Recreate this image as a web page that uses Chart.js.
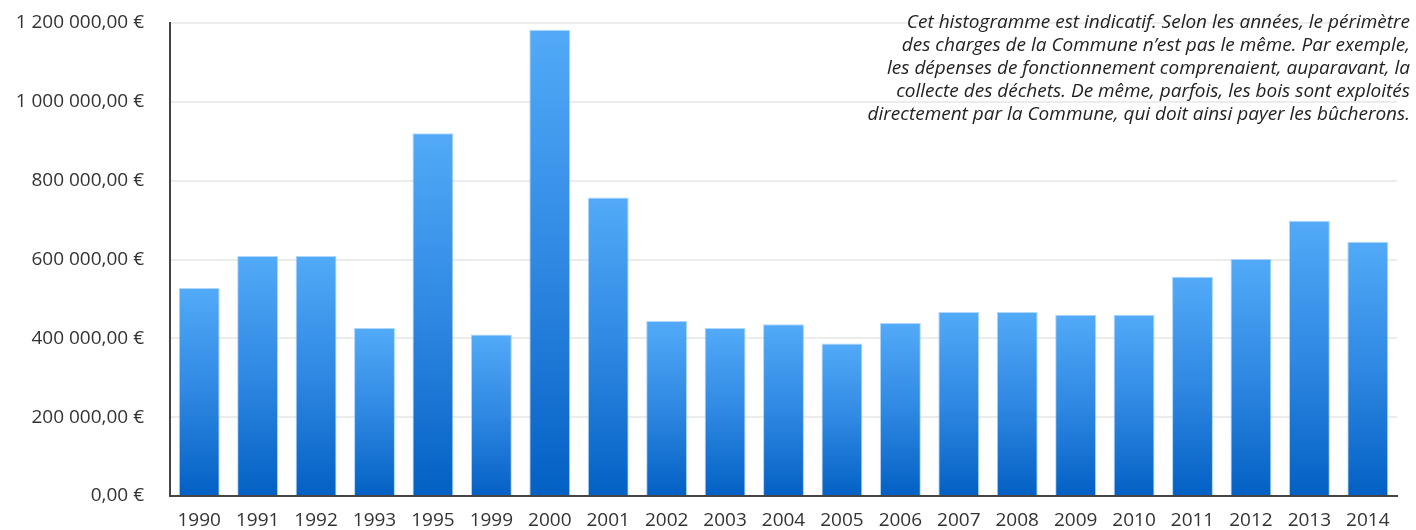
<!DOCTYPE html>
<html lang="fr">
<head>
<meta charset="utf-8">
<script src="https://cdn.jsdelivr.net/npm/chart.js@4"></script>
<style>
  html, body { margin: 0; padding: 0; background: #ffffff; }
  #wrap { position: relative; width: 1416px; height: 530px; }
  #note {
    position: absolute; right: 6px; top: 10px; width: 700px;
    text-align: right; font-family: "Open Sans", sans-serif; font-style: italic;
    font-size: 19px; line-height: 23px; color: #222; white-space: nowrap;
  }
</style>
</head>
<body>
<div id="wrap">
  <canvas id="c" width="1416" height="530"></canvas>
  <div id="note">Cet histogramme est indicatif. Selon les années, le périmètre<br>des charges de la Commune n’est pas le même. Par exemple,<br>les dépenses de fonctionnement comprenaient, auparavant, la<br>collecte des déchets. De même, parfois, les bois sont exploités<br>directement par la Commune, qui doit ainsi payer les bûcherons.</div>
</div>
<script>
const years = ["1990","1991","1992","1993","1995","1999","2000","2001","2002","2003","2004","2005","2006","2007","2008","2009","2010","2011","2012","2013","2014"];
const charges = [528000, 609000, 609000, 426000, 920000, 410000, 1183000, 757000, 444000, 426000, 436000, 387000, 439000, 467000, 467000, 460000, 460000, 556000, 601000, 698000, 645000];
const yMax = 1200000;
const yStep = 200000;

function euro(v) {
  const parts = Math.round(v).toString().replace(/\B(?=(\d{3})+(?!\d))/g, " ");
  return parts + ",00 €";
}

const canvas = document.getElementById('c');
new Chart(canvas, {
  type: 'bar',
  data: {
    labels: years,
    datasets: [{
      data: charges,
      backgroundColor: (ctx) => {
        const chart = ctx.chart;
        if (!chart.chartArea || ctx.raw === undefined) return '#3a8ee6';
        const ys = chart.scales.y;
        const top = ys.getPixelForValue(ctx.raw);
        const bottom = ys.getPixelForValue(0);
        const g = chart.ctx.createLinearGradient(0, top, 0, bottom);
        g.addColorStop(0, '#52aaf8');
        g.addColorStop(0.5, '#2f88e2');
        g.addColorStop(1, '#0360c4');
        return g;
      },
      borderColor: 'rgba(120,190,250,0.6)',
      borderWidth: 1,
      categoryPercentage: 1,
      barPercentage: 0.7
    }]
  },
  options: {
    responsive: false,
    animation: false,
    devicePixelRatio: 1,
    layout: { padding: { top: 23, right: 19, left: 0, bottom: 0 } },
    plugins: { legend: { display: false }, tooltip: { enabled: false } },
    scales: {
      x: {
        grid: { display: false, drawTicks: false },
        border: { display: true, color: '#444', width: 2 },
        ticks: { color: '#333', padding: 13, maxRotation: 0, autoSkip: false,
                 font: { family: 'Open Sans', size: 19 } },
        afterFit: (s) => { s.height = 34; }
      },
      y: {
        min: 0, max: yMax,
        grid: { color: '#ececec', lineWidth: 2, drawTicks: false },
        border: { display: true, color: '#444', width: 2 },
        ticks: { stepSize: yStep, color: '#333', padding: 26,
                 font: { family: 'Open Sans', size: 19 },
                 callback: (v) => euro(v) },
        afterFit: (s) => { s.width = 170; s.paddingTop = 0; s.paddingBottom = 0; }
      }
    }
  }
});
</script>
</body>
</html>
